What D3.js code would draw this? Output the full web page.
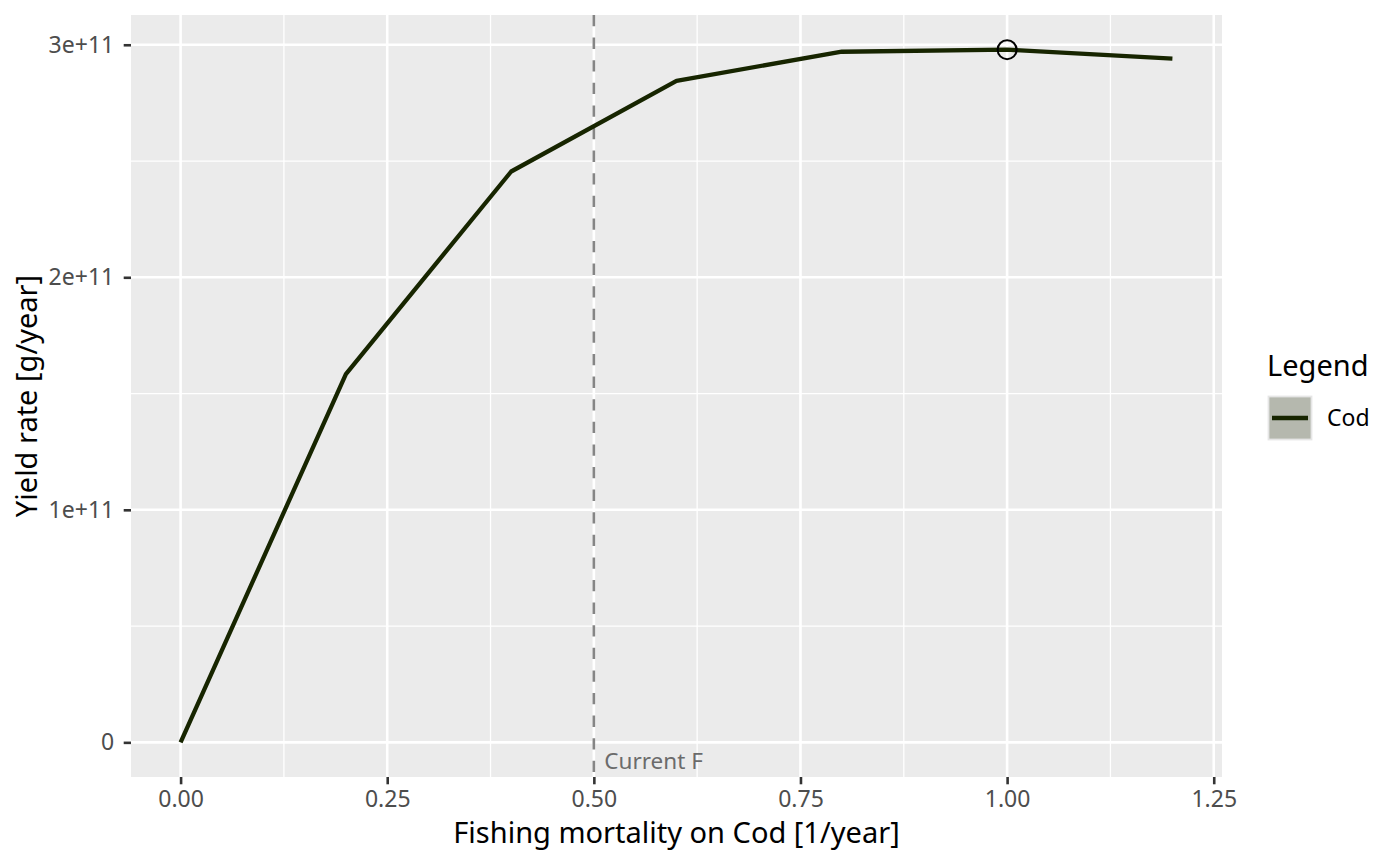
<!DOCTYPE html>
<html><head><meta charset="utf-8">
<script src="https://cdn.jsdelivr.net/npm/d3@7"></script>
<style>body{margin:0;background:#fff}svg{font-family:"Noto Sans",sans-serif}</style>
</head><body>
<svg id="c" width="1400" height="866"></svg>
<script>
const fishingMortality = [0, 0.2, 0.4, 0.6, 0.8, 1.0, 1.2];
const yieldRate = [0, 1.584e11, 2.455e11, 2.845e11, 2.970e11, 2.979e11, 2.940e11];
const xTicks = [0, 0.25, 0.5, 0.75, 1.0, 1.25];
const xTickLabels = ["0.00", "0.25", "0.50", "0.75", "1.00", "1.25"];
const yTicks = [0, 1e11, 2e11, 3e11];
const yTickLabels = ["0", "1e+11", "2e+11", "3e+11"];
const currentF = 0.5;
const optimumF = 1.0;
const optimumYield = 2.979e11;
const seriesName = "Cod";

const svg = d3.select("#c");
const L = 131, R = 1222, T = 15, B = 777;
const xmin = -0.06, xmax = 1.26;
const ymin = -0.149e11, ymax = 3.128e11;
const x = d3.scaleLinear().domain([xmin, xmax]).range([L, R]);
const y = d3.scaleLinear().domain([ymin, ymax]).range([B, T]);
const lineCol = "#172500";
const tickFont = "23px", titleFont = "29px";

svg.append("rect").attr("x", L).attr("y", T).attr("width", R - L).attr("height", B - T).attr("fill", "#ebebeb");

// minor grid
const xMinor = xTicks.slice(0, -1).map((d, i) => (d + xTicks[i + 1]) / 2);
const yMinor = yTicks.slice(0, -1).map((d, i) => (d + yTicks[i + 1]) / 2);
svg.append("g").selectAll("line").data(xMinor).join("line")
  .attr("x1", d => x(d)).attr("x2", d => x(d)).attr("y1", T).attr("y2", B)
  .attr("stroke", "#fff").attr("stroke-width", 1.3);
svg.append("g").selectAll("line").data(yMinor).join("line")
  .attr("y1", d => y(d)).attr("y2", d => y(d)).attr("x1", L).attr("x2", R)
  .attr("stroke", "#fff").attr("stroke-width", 1.3);
// major grid
svg.append("g").selectAll("line").data(xTicks).join("line")
  .attr("x1", d => x(d)).attr("x2", d => x(d)).attr("y1", T).attr("y2", B)
  .attr("stroke", "#fff").attr("stroke-width", 2.6);
svg.append("g").selectAll("line").data(yTicks).join("line")
  .attr("y1", d => y(d)).attr("y2", d => y(d)).attr("x1", L).attr("x2", R)
  .attr("stroke", "#fff").attr("stroke-width", 2.6);

// axes
const xAxis = d3.axisBottom(x).tickValues(xTicks).tickFormat((d, i) => xTickLabels[i]).tickSize(7.3).tickPadding(6.5);
const gx = svg.append("g").attr("transform", `translate(0,${B})`).call(xAxis);
gx.select(".domain").remove();
gx.attr("font-family", null).attr("font-size", null);
gx.selectAll(".tick line").attr("stroke", "#333").attr("stroke-width", 2.6);
gx.selectAll(".tick text").attr("fill", "#4d4d4d").style("font-size", tickFont);

const yAxis = d3.axisLeft(y).tickValues(yTicks).tickFormat((d, i) => yTickLabels[i]).tickSize(7.3).tickPadding(9.5);
const gy = svg.append("g").attr("transform", `translate(${L},0)`).call(yAxis);
gy.select(".domain").remove();
gy.attr("font-family", null).attr("font-size", null);
gy.selectAll(".tick line").attr("stroke", "#333").attr("stroke-width", 2.6);
gy.selectAll(".tick text").attr("fill", "#4d4d4d").style("font-size", tickFont);

// current F
svg.append("line").attr("x1", x(currentF)).attr("x2", x(currentF)).attr("y1", T).attr("y2", B)
  .attr("stroke", "#858585").attr("stroke-width", 2.6).attr("stroke-dasharray", "11.3,11.3");
svg.append("text").attr("x", x(currentF) + 10.5).attr("y", 769).text("Current F")
  .attr("fill", "#6b6b6b").style("font-size", "22.5px");

// line
const line = d3.line().x((d, i) => x(fishingMortality[i])).y(d => y(d));
svg.append("path").datum(yieldRate).attr("d", line).attr("fill", "none")
  .attr("stroke", lineCol).attr("stroke-width", 4.3).attr("stroke-linejoin", "round");

svg.append("circle").attr("cx", x(optimumF)).attr("cy", y(optimumYield)).attr("r", 9.5)
  .attr("fill", "none").attr("stroke", "#000").attr("stroke-width", 2);

// titles
svg.append("text").attr("x", (L + R) / 2).attr("y", 842.5).attr("text-anchor", "middle")
  .text("Fishing mortality on Cod [1/year]").style("font-size", titleFont).attr("fill", "#000");
svg.append("text").attr("transform", `translate(37,${(T + B) / 2}) rotate(-90)`).attr("text-anchor", "middle")
  .text("Yield rate [g/year]").style("font-size", titleFont).attr("fill", "#000");

// legend
svg.append("text").attr("x", 1267).attr("y", 376).text("Legend").style("font-size", titleFont).attr("fill", "#000");
svg.append("rect").attr("x", 1268.5).attr("y", 396.5).attr("width", 43).attr("height", 43)
  .attr("fill", "#b5b8ae").attr("stroke", "#e6e6e6").attr("stroke-width", 1.8);
svg.append("line").attr("x1", 1272).attr("x2", 1308).attr("y1", 418).attr("y2", 418)
  .attr("stroke", lineCol).attr("stroke-width", 4.3);
svg.append("text").attr("x", 1327).attr("y", 426).text(seriesName).style("font-size", tickFont).attr("fill", "#000");
</script>
</body></html>
